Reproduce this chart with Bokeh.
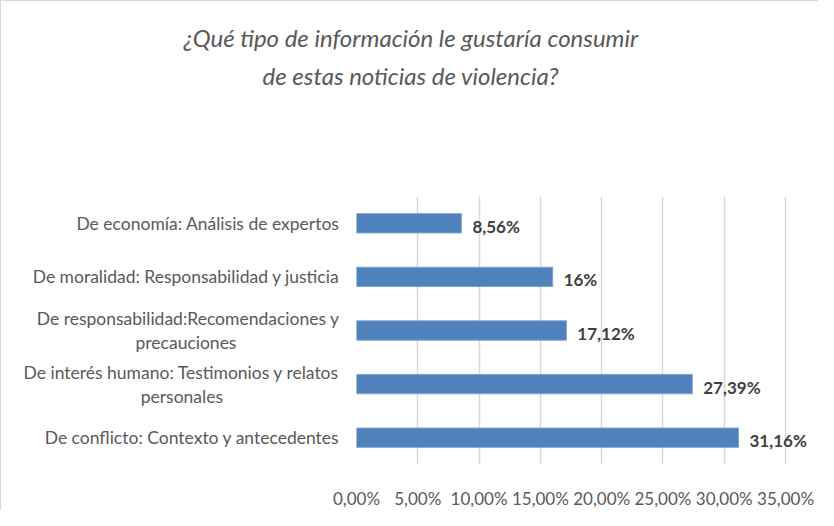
from bokeh.plotting import figure
from bokeh.models import Range1d, FixedTicker, Title, ColumnDataSource, LabelSet
from bokeh.core.properties import value
from bokeh.embed import file_html
from bokeh.resources import INLINE

# ---- data ----
categories = [
    "De economía: Análisis de expertos",
    "De moralidad: Responsabilidad y justicia",
    "De responsabilidad:Recomendaciones y\nprecauciones",
    "De interés humano: Testimonios y relatos\npersonales",
    "De conflicto: Contexto y antecedentes",
]
values = [8.56, 16.0, 17.12, 27.39, 31.16]
value_labels = ["8,56%", "16%", "17,12%", "27,39%", "31,16%"]
x_ticks = [0, 5, 10, 15, 20, 25, 30, 35]
x_tick_labels = ["0,00%", "5,00%", "10,00%", "15,00%", "20,00%", "25,00%", "30,00%", "35,00%"]
title_lines = ["¿Qué tipo de información le gustaría consumir", "de estas noticias de violencia?"]

FONT = "Lato"
GRAY = "#595959"

n = len(categories)
pos = list(range(n))  # row index, first category at the top

p = figure(width=818, height=510, y_range=Range1d(n - 0.5, -0.5),
           x_range=Range1d(0, 37.77), output_backend="svg", toolbar_location=None)
p.min_border_left = 355
p.min_border_right = 0
p.min_border_top = 195
p.min_border_bottom = 40
p.outline_line_color = None
p.background_fill_color = "white"
p.border_fill_color = "white"
p.styles = {"border-top": "1px solid #d9d9d9", "border-left": "1px solid #d9d9d9"}

src = ColumnDataSource(dict(y=pos, val=values, lab=value_labels))
p.hbar(y="y", right="val", left=0, height=0.36, source=src,
       fill_color="#4F81BD", line_color="#7FA2D0", line_width=1)

labels = LabelSet(x="val", y="y", text="lab", source=src, x_offset=11, y_offset=-3,
                  text_font=value(FONT), text_font_style="bold", text_font_size="17px",
                  text_color="#404040", text_baseline="middle")
p.add_layout(labels)

# axes
p.xaxis.ticker = FixedTicker(ticks=x_ticks)
p.xaxis.major_label_overrides = {t: l for t, l in zip(x_ticks, x_tick_labels)}
p.xaxis.axis_line_color = None
p.xaxis.major_tick_line_color = None
p.xaxis.minor_tick_line_color = None
p.xaxis.major_label_text_font = FONT
p.xaxis.major_label_text_font_size = "17px"
p.xaxis.major_label_text_color = GRAY
p.xaxis.major_label_standoff = 17

# centre the second line of wrapped category labels under the first (display only)
NBSP = "\u00a0"
pad = {2: 23, 3: 26}
overrides = {}
for i, c in enumerate(categories):
    if i in pad:
        first, second = c.split("\n")
        overrides[i] = first + "\n" + second + NBSP * pad[i]
    else:
        overrides[i] = c
p.yaxis.ticker = FixedTicker(ticks=pos)
p.yaxis.major_label_overrides = overrides
p.yaxis.axis_line_color = None
p.yaxis.major_tick_line_color = None
p.yaxis.minor_tick_line_color = None
p.yaxis.major_label_text_font = FONT
p.yaxis.major_label_text_font_size = "17.5px"
p.yaxis.major_label_text_line_height = 1.15
p.yaxis.major_label_text_color = GRAY
p.yaxis.major_label_standoff = 11

p.ygrid.grid_line_color = None
p.xgrid.grid_line_color = "#d9d9d9"
p.xgrid.grid_line_width = 1.5

# title: spacer (closest to frame), then line 2, then line 1
p.add_layout(Title(text=" ", text_font_size="10px", standoff=90), "above")
p.add_layout(Title(text=title_lines[1], align="left", offset=-94, standoff=7,
                   text_font=FONT, text_font_style="italic", text_font_size="24px",
                   text_color=GRAY), "above")
p.add_layout(Title(text=title_lines[0], align="left", offset=-173, standoff=7,
                   text_font=FONT, text_font_style="italic", text_font_size="24px",
                   text_color=GRAY), "above")

open("out.html", "w").write(file_html(p, INLINE))
